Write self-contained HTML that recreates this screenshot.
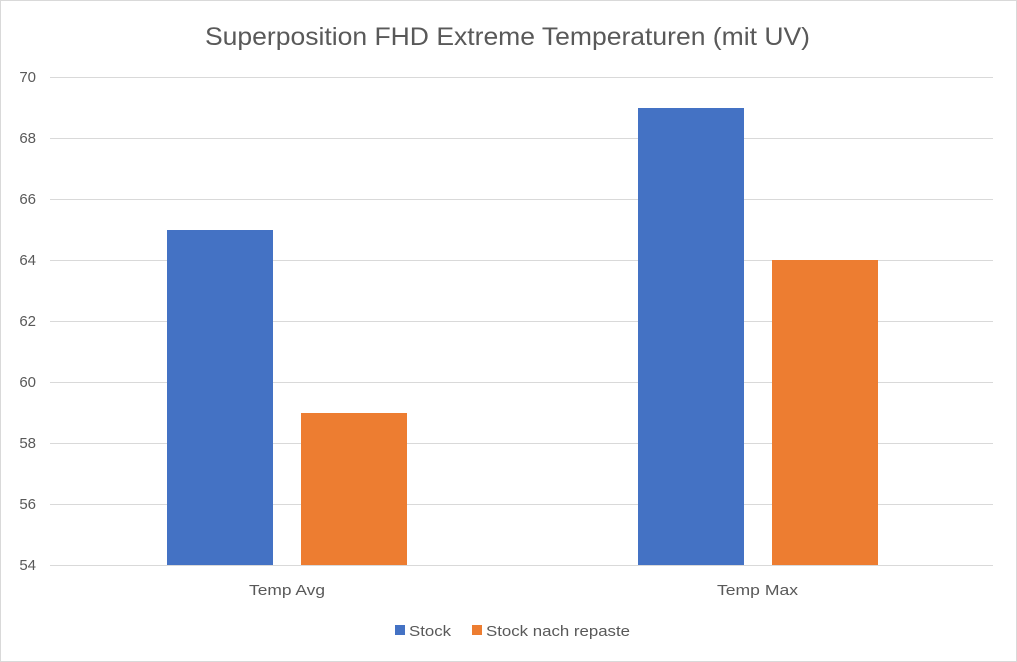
<!DOCTYPE html>
<html><head><meta charset="utf-8"><style>
html,body{margin:0;padding:0;background:#fff;}
svg{display:block;font-family:"Liberation Sans",sans-serif;}
</style></head><body>
<svg width="1017" height="662" viewBox="0 0 1017 662">
<rect x="0.5" y="0.5" width="1016" height="661" fill="#fff" stroke="#d9d9d9"/>
<text x="205" y="45" font-size="25" fill="#595959" textLength="605" lengthAdjust="spacingAndGlyphs">Superposition FHD Extreme Temperaturen (mit UV)</text>
<g stroke="#d9d9d9" stroke-width="1">
<line x1="50" x2="993" y1="77.5" y2="77.5"/>
<line x1="50" x2="993" y1="138.5" y2="138.5"/>
<line x1="50" x2="993" y1="199.5" y2="199.5"/>
<line x1="50" x2="993" y1="260.5" y2="260.5"/>
<line x1="50" x2="993" y1="321.5" y2="321.5"/>
<line x1="50" x2="993" y1="382.5" y2="382.5"/>
<line x1="50" x2="993" y1="443.5" y2="443.5"/>
<line x1="50" x2="993" y1="504.5" y2="504.5"/>
<line x1="50" x2="993" y1="565.5" y2="565.5"/>
</g>
<g font-size="15" fill="#595959" text-anchor="end">
<text x="36" y="82">70</text><text x="36" y="143">68</text><text x="36" y="204">66</text>
<text x="36" y="265">64</text><text x="36" y="326">62</text><text x="36" y="387">60</text>
<text x="36" y="448">58</text><text x="36" y="509">56</text><text x="36" y="570">54</text>
</g>
<rect x="167" y="230" width="106" height="335" fill="#4472c4"/>
<rect x="301" y="413" width="106" height="152" fill="#ed7d31"/>
<rect x="638" y="108" width="106" height="457" fill="#4472c4"/>
<rect x="772" y="260" width="106" height="305" fill="#ed7d31"/>
<g font-size="15" fill="#595959">
<text x="249" y="595" textLength="76" lengthAdjust="spacingAndGlyphs">Temp Avg</text>
<text x="717" y="595" textLength="81" lengthAdjust="spacingAndGlyphs">Temp Max</text>
</g>
<rect x="395" y="625" width="10" height="10" fill="#4472c4"/>
<text x="409" y="636" font-size="15" fill="#595959" textLength="42" lengthAdjust="spacingAndGlyphs">Stock</text>
<rect x="472" y="625" width="10" height="10" fill="#ed7d31"/>
<text x="486" y="636" font-size="15" fill="#595959" textLength="144" lengthAdjust="spacingAndGlyphs">Stock nach repaste</text>
</svg>
</body></html>
